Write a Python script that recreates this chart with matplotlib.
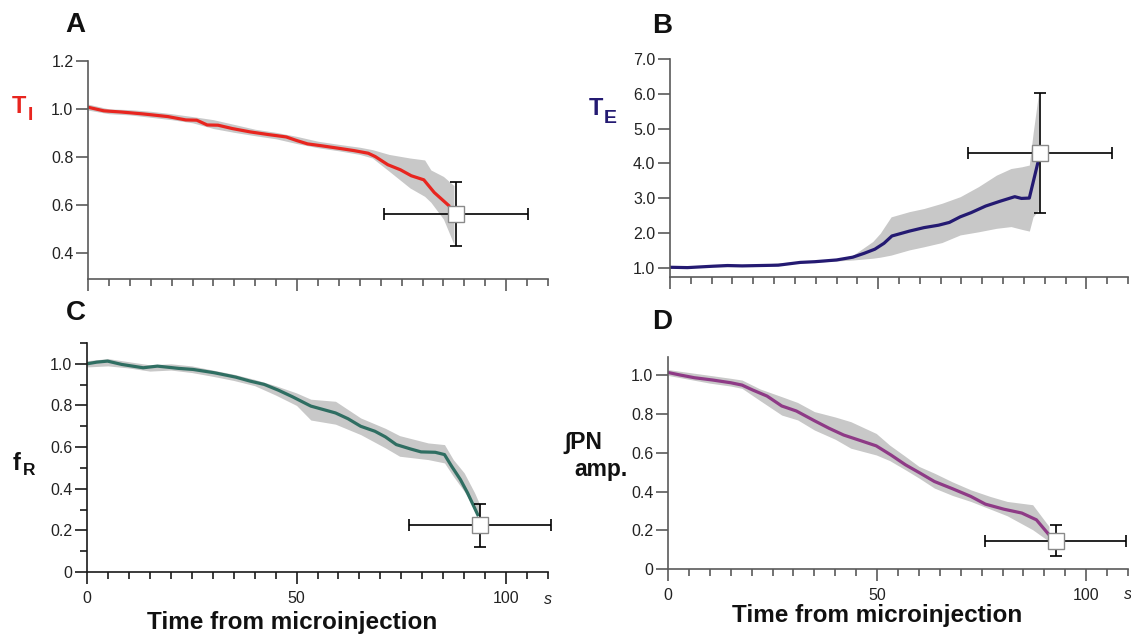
import numpy as np
import matplotlib.pyplot as plt
from matplotlib.ticker import FixedLocator, MultipleLocator

plt.rcParams['font.family'] = ['Liberation Sans', 'DejaVu Sans']

################################################################################
# Data
################################################################################
# A : T_I
a_x    = [0, 3.8, 8.0, 13.2, 19.1, 23.4, 26.0, 28.5, 31.1, 34.5, 38.8, 43.1, 47.4,
          49.9, 52.5, 55.9, 60.2, 63.6, 67.0, 68.7, 71.7, 74.7, 77.3, 80.3, 82.8, 86.5]
a_y    = [1.007, 0.992, 0.987, 0.979, 0.968, 0.954, 0.953, 0.933, 0.932, 0.918, 0.904,
          0.893, 0.883, 0.868, 0.854, 0.846, 0.835, 0.826, 0.815, 0.801, 0.767, 0.746,
          0.721, 0.704, 0.651, 0.593]
a_bx   = [0, 5, 10, 15, 20, 25, 30, 35, 40, 45, 50, 55, 60, 65, 68, 72, 77, 80.5, 82, 85, 87.5]
a_hi   = [1.02, 1.0, 0.997, 0.99, 0.98, 0.968, 0.955, 0.935, 0.915, 0.902, 0.885, 0.865,
          0.852, 0.84, 0.83, 0.81, 0.795, 0.787, 0.745, 0.718, 0.68]
a_lo   = [0.995, 0.98, 0.975, 0.965, 0.955, 0.942, 0.918, 0.902, 0.888, 0.875, 0.855,
          0.838, 0.825, 0.81, 0.795, 0.74, 0.67, 0.635, 0.61, 0.54, 0.435]
a_pt   = (88.0, 0.56, 17.3, 0.134)

# B : T_E
b_x    = [0, 4.2, 10.3, 13.8, 17.3, 26.0, 31.3, 34.8, 40.0, 43.9, 46.6, 49.2, 51.4,
          53.3, 57.5, 61.0, 64.5, 67.1, 69.7, 72.3, 75.8, 79.3, 82.8, 84.4, 86.3, 88.5]
b_y    = [1.01, 1.0, 1.04, 1.06, 1.05, 1.07, 1.15, 1.17, 1.22, 1.30, 1.41, 1.53, 1.70,
          1.91, 2.05, 2.15, 2.22, 2.30, 2.46, 2.58, 2.77, 2.91, 3.04, 2.99, 3.00, 4.09]
b_bx   = [0, 10, 20, 30, 40, 44, 48.7, 50.5, 53.1, 57.5, 61, 65.3, 69.7, 74.1, 78.4,
          81.9, 84.5, 86.3, 87.2, 88.5]
b_lo   = [0.98, 1.02, 1.03, 1.12, 1.19, 1.22, 1.27, 1.30, 1.36, 1.51, 1.60, 1.72, 1.94,
          2.03, 2.13, 2.18, 2.10, 2.05, 2.46, 2.66]
b_hi   = [1.02, 1.06, 1.08, 1.17, 1.25, 1.36, 1.75, 1.99, 2.46, 2.61, 2.70, 2.85, 3.04,
          3.33, 3.66, 3.85, 3.90, 3.95, 4.86, 6.0]
b_pt   = (88.9, 4.3, 17.3, 1.73)

# C : f_R
c_x    = [0, 2.3, 4.9, 8.3, 13.4, 16.8, 21.9, 25.3, 30.4, 35.5, 38.9, 42.3, 45.7, 49.1,
          53.4, 59.3, 62.3, 65.3, 68.7, 71.2, 73.8, 77.2, 79.7, 83.1, 85.3, 87.0, 89.1,
          90.8, 93.4]
c_y    = [1.0, 1.008, 1.013, 0.997, 0.981, 0.989, 0.978, 0.973, 0.957, 0.936, 0.917,
          0.901, 0.873, 0.841, 0.797, 0.764, 0.736, 0.700, 0.676, 0.649, 0.612, 0.591,
          0.577, 0.575, 0.564, 0.508, 0.444, 0.380, 0.268]
c_bx   = [0, 5, 10, 15, 20, 25, 30, 35, 40, 45, 50, 53.4, 59.3, 65.3, 71.2, 74.6, 81.4,
          85.3, 87.4, 90, 92.5, 93.8]
c_hi   = [1.015, 1.025, 1.01, 0.995, 1.0, 0.99, 0.97, 0.95, 0.925, 0.895, 0.86, 0.83,
          0.82, 0.74, 0.69, 0.655, 0.62, 0.612, 0.54, 0.476, 0.38, 0.32]
c_lo   = [0.985, 0.99, 0.98, 0.965, 0.97, 0.958, 0.94, 0.92, 0.895, 0.85, 0.8, 0.73,
          0.71, 0.66, 0.596, 0.556, 0.54, 0.524, 0.46, 0.388, 0.30, 0.26]
c_pt   = (93.8, 0.225, 17.0, 0.104)

# D : integrated PN amplitude
d_x    = [0, 2.9, 6.3, 10.7, 15.0, 17.7, 20.3, 23.7, 27.2, 30.7, 35.0, 38.5, 42.0, 45.5,
          49.8, 53.3, 56.8, 60.3, 63.7, 68.1, 72.4, 75.9, 80.3, 84.6, 88.1, 91.1]
d_y    = [1.015, 1.002, 0.988, 0.976, 0.962, 0.950, 0.924, 0.893, 0.842, 0.816, 0.766,
          0.727, 0.692, 0.667, 0.636, 0.589, 0.538, 0.495, 0.452, 0.414, 0.375, 0.335,
          0.309, 0.289, 0.254, 0.177]
d_bx   = [0, 5, 10, 15, 17.7, 22, 27.2, 31, 35, 40, 43.7, 49.8, 53, 56.8, 60, 63.7, 68,
          72.4, 77, 81.1, 87.2, 91.1]
d_hi   = [1.03, 1.015, 1.0, 0.985, 0.976, 0.93, 0.89, 0.86, 0.813, 0.785, 0.761, 0.70,
          0.64, 0.581, 0.53, 0.495, 0.45, 0.409, 0.375, 0.349, 0.332, 0.22]
d_lo   = [1.0, 0.98, 0.96, 0.945, 0.933, 0.87, 0.795, 0.77, 0.718, 0.67, 0.624, 0.589,
          0.56, 0.512, 0.47, 0.418, 0.38, 0.349, 0.31, 0.275, 0.203, 0.143]
d_pt   = (92.7, 0.145, 16.9, 0.08)

################################################################################
# Figure
################################################################################
W, H = 1131, 634
fig = plt.figure(figsize = (W / 100, H / 100), dpi = 100)

def px_axes(x0, x1, ytop, ybot):
    return fig.add_axes([x0 / W, 1 - ybot / H, (x1 - x0) / W, (ybot - ytop) / H])

def px_text(x, y, s, **kw):
    # left / baseline anchored text placed in pixel coordinates
    kw.setdefault("ha", "left")
    kw.setdefault("va", "baseline")
    kw.setdefault("fontweight", "bold")
    return fig.text(x / W, 1 - y / H, s, **kw)

BAND_COL = "#c8c8c8"
TSIZE    = 11.5

def style(ax, ylim, yticks, ylabels, yminor = None, xlabels = False, axcol = "#5a5a5a"):
    ax.set_xlim(0, 110)
    ax.set_ylim(*ylim)
    for s in ["top", "right"]:
        ax.spines[s].set_visible(False)
    for s in ["left", "bottom"]:
        ax.spines[s].set_color(axcol)
        ax.spines[s].set_linewidth(1.2)
    ax.xaxis.set_major_locator(FixedLocator([0, 50, 100]))
    ax.xaxis.set_minor_locator(MultipleLocator(5))
    ax.set_yticks(yticks)
    ax.set_yticklabels(ylabels)
    if yminor is not None:
        ax.yaxis.set_minor_locator(FixedLocator(yminor))
    ax.tick_params(axis = "both", which = "major", length = 8.5, width = 1.2,
                   color = axcol, labelsize = TSIZE, labelcolor = "#222222")
    ax.tick_params(axis = "both", which = "minor", length = 5, width = 1.2, color = axcol)
    ax.tick_params(axis = "y", pad = 2)
    ax.tick_params(axis = "x", pad = 5)
    if xlabels:
        ax.set_xticklabels(["0", "50", "100"])
        ax.text(110, -0.12, "s", style = "italic", fontsize = TSIZE, ha = "center",
                va = "center", color = "#222222", transform = ax.get_xaxis_transform())
    else:
        ax.set_xticklabels([])

def draw(ax, x, y, bx, lo, hi, pt, color):
    ax.fill_between(bx, lo, hi, color = BAND_COL, lw = 0, zorder = 1)
    ax.plot(x, y, color = color, lw = 2.3, zorder = 2, solid_capstyle = "butt")
    px, py, ex, ey = pt
    ax.errorbar(px, py, xerr = ex, yerr = ey, fmt = "none", ecolor = "black",
                elinewidth = 1.2, capsize = 4, capthick = 1.2, zorder = 3, clip_on = False)
    ax.plot(px, py, "s", ms = 12, mfc = "white", mec = "#8a8a8a", mew = 1.0,
            zorder = 4, clip_on = False)

########################################
# A
########################################
axA = px_axes(88, 548, 61, 279)
draw(axA, a_x, a_y, a_bx, a_lo, a_hi, a_pt, "#e8251f")
style(axA, (0.29, 1.2), [0.4, 0.6, 0.8, 1.0, 1.2], ["0.4", "0.6", "0.8", "1.0", "1.2"])

########################################
# B
########################################
axB = px_axes(670, 1128, 59, 277)
draw(axB, b_x, b_y, b_bx, b_lo, b_hi, b_pt, "#241a72")
style(axB, (0.73, 7.0), [1, 2, 3, 4, 5, 6, 7],
      ["1.0", "2.0", "3.0", "4.0", "5.0", "6.0", "7.0"])

########################################
# C
########################################
axC = px_axes(87, 548, 343, 572)
draw(axC, c_x, c_y, c_bx, c_lo, c_hi, c_pt, "#2f6e62")
style(axC, (0, 1.1), [0, 0.2, 0.4, 0.6, 0.8, 1.0], ["0", "0.2", "0.4", "0.6", "0.8", "1.0"],
      yminor = [0.1, 0.3, 0.5, 0.7, 0.9, 1.1], xlabels = True, axcol = "#1a1a1a")

########################################
# D
########################################
axD = px_axes(668, 1128, 357, 569)
draw(axD, d_x, d_y, d_bx, d_lo, d_hi, d_pt, "#8e3a86")
style(axD, (0, 1.095), [0, 0.2, 0.4, 0.6, 0.8, 1.0], ["0", "0.2", "0.4", "0.6", "0.8", "1.0"],
      xlabels = True)

########################################
# X labels
########################################
for ax, xc in [(axC, 49), (axD, 50)]:
    ax.text(xc, -0.22, "Time from microinjection", fontsize = 17.5, fontweight = "bold",
            ha = "center", va = "center", color = "#111111",
            transform = ax.get_xaxis_transform())

########################################
# Y labels (letter + lowered subscript)
########################################
px_text(12, 113, "T", fontsize = 17, color = "#e8251f")
px_text(28, 120, "I", fontsize = 14, color = "#e8251f")
px_text(589, 115, "T", fontsize = 17, color = "#241a72")
px_text(604, 123, "E", fontsize = 14, color = "#241a72")
px_text(13, 470.5, "f", fontsize = 17, color = "#111111")
px_text(23, 475, "R", fontsize = 12.5, color = "#111111")
px_text(564, 449, "\u222bPN", fontsize = 16.5, color = "#111111")
px_text(574, 476, "amp.", fontsize = 16.5, color = "#111111")

########################################
# Panel letters
########################################
for lbl, x, y in [("A", 75, 25), ("B", 662, 26), ("C", 76, 313), ("D", 662, 322)]:
    fig.text(x / W, 1 - y / H, lbl, fontsize = 20, fontweight = "bold",
             color = "#111111", ha = "center", va = "center")

fig.savefig("out.png", dpi = 100)
